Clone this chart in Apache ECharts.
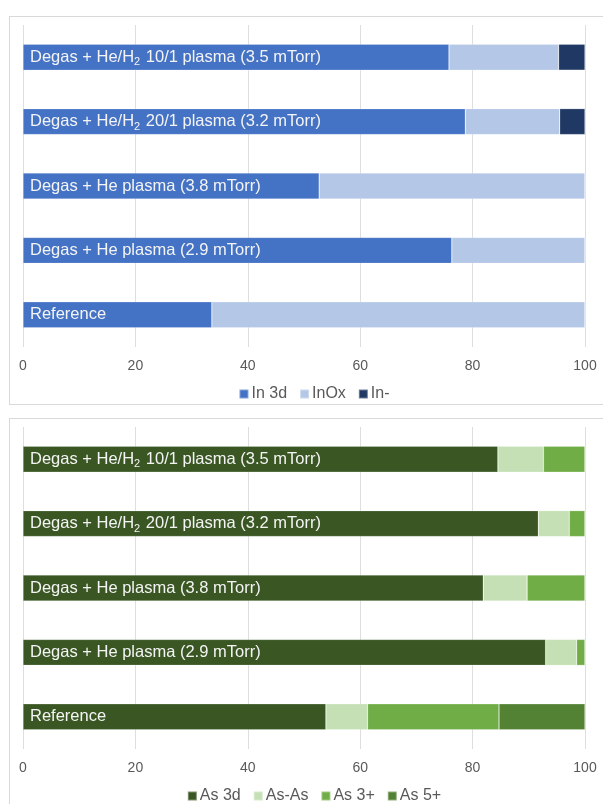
<!DOCTYPE html>
<html>
<head>
<meta charset="utf-8">
<script src="https://cdn.jsdelivr.net/npm/echarts@6/dist/echarts.min.js"></script>
<style>
  html, body { margin: 0; padding: 0; background: #fff; overflow: hidden; }
  .panel { position: absolute; left: 9px; width: 610px; height: 389px; border: 1px solid #d9d9d9; box-sizing: border-box; background: #fff; }
  #c1 { top: 16px; }
  #c2 { top: 418px; }
</style>
</head>
<body>
<div id="c1" class="panel"></div>
<div id="c2" class="panel"></div>
<script>
const categories = [
  "Degas + He/H₂ 10/1 plasma (3.5 mTorr)",
  "Degas + He/H₂ 20/1 plasma (3.2 mTorr)",
  "Degas + He plasma (3.8 mTorr)",
  "Degas + He plasma (2.9 mTorr)",
  "Reference"
];
const xTicks = { min: 0, max: 100, interval: 20 };

// Indium chart
const inNames = ["In 3d", "InOx", "In-"];
const in3d = [75.8, 78.7, 52.7, 76.3, 33.6];
const inOx = [19.5, 16.8, 47.3, 23.7, 66.4];
const inMinus = [4.7, 4.5, 0, 0, 0];
const inColors = ["#4472C4", "#B4C7E7", "#203864"];

// Arsenic chart
const asNames = ["As 3d", "As-As", "As 3+", "As 5+"];
const as3d = [84.5, 91.7, 81.9, 93.0, 53.9];
const asAs = [8.1, 5.5, 7.8, 5.5, 7.4];
const as3p = [7.4, 2.8, 10.3, 1.5, 23.4];
const as5p = [0, 0, 0, 0, 15.3];
const asColors = ["#3A5723", "#C5E0B4", "#70AD47", "#548235"];

const FONT = 'Liberation Sans, Arial, sans-serif';

function labelFmt(p) {
  return '{t|' + categories[p.dataIndex].replace('₂', '}{sub|2}{t|') + '}';
}

function buildOption(names, seriesData, colors) {
  const series = seriesData.map((d, i) => ({
    name: names[i],
    type: 'bar',
    stack: 'total',
    barWidth: 26,
    data: d,
    itemStyle: { color: colors[i], borderColor: 'rgba(255,255,255,0.35)', borderWidth: 0.6 },
    emphasis: { disabled: true },
    label: i === 0 ? {
      show: true,
      position: 'insideLeft',
      distance: 7,
      formatter: labelFmt,
      rich: {
        t: { fontFamily: FONT, fontSize: 16.5, color: '#f4f4f4' },
        sub: { fontFamily: FONT, fontSize: 11, color: '#f4f4f4', padding: [10, 1, 0, 0] }
      }
    } : { show: false }
  }));
  return {
    animation: false,
    textStyle: { fontFamily: FONT },
    grid: { left: 13, top: 8, width: 562, height: 322 },
    legend: {
      data: names,
      left: 'center',
      top: 364,
      icon: 'rect',
      itemWidth: 9,
      itemHeight: 9,
      itemGap: 12,
      textStyle: { fontSize: 16, color: '#595959', padding: [0, 0, 0, -2] }
    },
    xAxis: {
      type: 'value',
      min: xTicks.min, max: xTicks.max, interval: xTicks.interval,
      axisLine: { show: false },
      axisTick: { show: false },
      axisLabel: { color: '#595959', fontSize: 14, margin: 12 },
      splitLine: { lineStyle: { color: '#dedede', width: 1 } }
    },
    yAxis: {
      type: 'category',
      data: categories,
      inverse: true,
      axisLine: { show: false },
      axisTick: { show: false },
      axisLabel: { show: false },
      splitLine: { show: false }
    },
    series: series
  };
}

const chart1 = echarts.init(document.getElementById('c1'), null, { renderer: 'canvas' });
chart1.setOption(buildOption(inNames, [in3d, inOx, inMinus], inColors));
const chart2 = echarts.init(document.getElementById('c2'), null, { renderer: 'canvas' });
chart2.setOption(buildOption(asNames, [as3d, asAs, as3p, as5p], asColors));
</script>
</body>
</html>
